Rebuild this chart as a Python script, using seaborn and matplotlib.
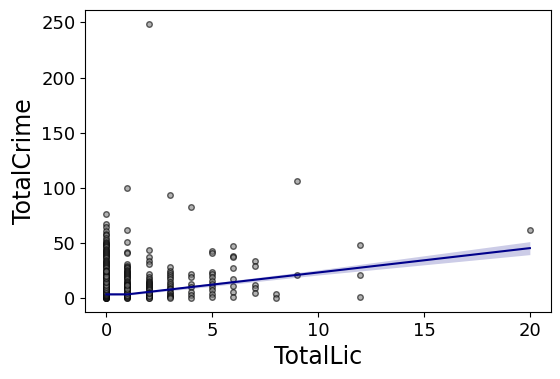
import matplotlib
matplotlib.use("Agg")
import matplotlib.pyplot as plt
import seaborn as sns
import pandas as pd
import numpy as np

# TotalCrime values observed at each TotalLic value
crime_lic0 = [76, 67, 65, 61, 58, 57, 55, 53, 51, 50, 49, 48, 47, 46, 45, 44, 43, 42, 41, 40,
              39, 38, 37, 36, 35, 34, 33, 32, 31, 30, 29, 28, 27, 26, 25, 24, 23, 22, 21, 20,
              19, 18, 17, 16, 15, 14, 13, 12, 11, 10, 9, 8, 7, 6, 5, 4, 3, 2, 1, 0,
              0, 0, 0, 1, 1, 2, 2, 3, 3, 4, 5, 6, 7, 8, 10, 12, 15, 18, 20, 25]
crime_lic1 = [100, 62, 51, 42, 41, 31, 29, 28, 27, 26, 25, 24, 23, 22, 21, 20, 19, 18, 17, 16,
              15, 14, 13, 12, 11, 10, 9, 8, 7, 6, 5, 4, 3, 2, 1, 0, 0, 1, 2, 3, 5, 8, 12]
crime_lic2 = [249, 44, 37, 34, 31, 22, 19, 17, 16, 15, 14, 13, 12, 11, 10, 9, 8, 7, 6, 5,
              4, 3, 2, 1, 0, 0, 2, 5]
crime_lic3 = [94, 28, 25, 23, 21, 19, 17, 15, 13, 11, 9, 8, 6, 5, 3, 2, 1, 0]
crime_lic4 = [83, 22, 19, 13, 10, 6, 3, 0]
crime_lic5 = [43, 41, 24, 22, 19, 16, 13, 10, 7, 4, 1]
crime_lic6 = [47, 38, 37, 27, 17, 11, 6, 1]
crime_lic7 = [34, 29, 12, 9, 5]
crime_lic8 = [4, 0]
crime_lic9 = [106, 21]
crime_lic12 = [48, 21, 1]
crime_lic20 = [62]

# fitted line and confidence band
fit_x = [0, 1, 10, 20]
fit_y = [3.5, 3.5, 23.3, 45.4]
fit_lo = [2.5, 2.7, 21.0, 39.5]
fit_hi = [4.5, 4.3, 25.6, 51.3]

columns = {0: crime_lic0, 1: crime_lic1, 2: crime_lic2, 3: crime_lic3, 4: crime_lic4,
           5: crime_lic5, 6: crime_lic6, 7: crime_lic7, 8: crime_lic8, 9: crime_lic9,
           12: crime_lic12, 20: crime_lic20}
rows = [(k, v) for k, vals in columns.items() for v in vals]
df = pd.DataFrame(rows, columns=["TotalLic", "TotalCrime"])

fig = plt.figure(figsize=(5.6, 3.79), dpi=100)
ax = fig.add_axes([0.152, 0.177, 0.832, 0.797])

sns.scatterplot(data=df, x="TotalLic", y="TotalCrime", ax=ax, color="gray",
                edgecolor="black", alpha=0.6, s=16, linewidth=1)
ax.fill_between(fit_x, fit_lo, fit_hi, color="darkblue", alpha=0.2, linewidth=0)
sns.lineplot(x=fit_x, y=fit_y, ax=ax, color="darkblue", linewidth=1.5)

ax.set_xlim(-1, 21)
ax.set_ylim(-12.45, 261.45)
ax.set_xticks([0, 5, 10, 15, 20])
ax.set_yticks([0, 50, 100, 150, 200, 250])
ax.tick_params(labelsize=13)
ax.set_xlabel("TotalLic", fontsize=17)
ax.set_ylabel("TotalCrime", fontsize=17)

fig.savefig("out.png", dpi=100)
